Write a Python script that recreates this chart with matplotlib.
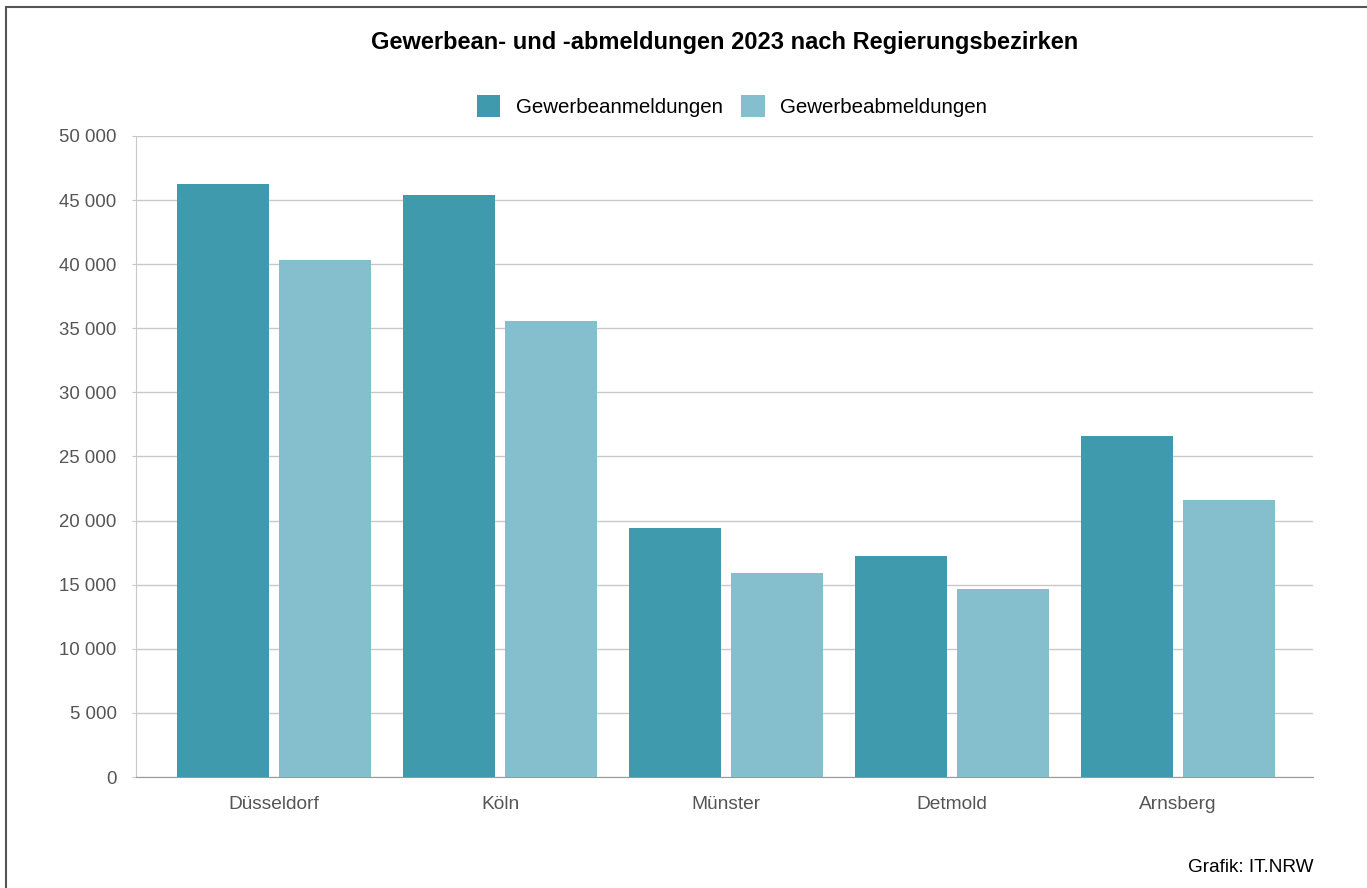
import matplotlib.pyplot as plt
import numpy as np
from matplotlib.patches import Rectangle

plt.rcParams['font.family'] = ['Liberation Sans', 'DejaVu Sans']

# Daten: Gewerbean- und -abmeldungen 2023
bezirke = ["Düsseldorf", "Köln", "Münster", "Detmold", "Arnsberg"]
anmeldungen = [46250, 45400, 19420, 17240, 26600]
abmeldungen = [40330, 35570, 15910, 14660, 21610]
yticks = [0, 5000, 10000, 15000, 20000, 25000, 30000, 35000, 40000, 45000, 50000]

farbe_an = "#3F9AAD"
farbe_ab = "#85BFCE"

W, H = 1367, 888
fig = plt.figure(figsize=(W / 100, H / 100), dpi=100)
ax = fig.add_axes([136 / W, (H - 777) / H, (1313 - 136) / W, (777 - 136) / H])

x = np.arange(len(bezirke))
breite = 0.407
versatz = 0.2257
ax.bar(x - versatz, anmeldungen, breite, color=farbe_an, label="Gewerbeanmeldungen", zorder=3)
ax.bar(x + versatz, abmeldungen, breite, color=farbe_ab, label="Gewerbeabmeldungen", zorder=3)

ax.set_xlim(-0.611, 4.597)
ax.set_ylim(0, 50000)
ax.set_yticks(yticks)
ax.set_yticklabels([f"{v:,}".replace(",", " ") for v in yticks])
ax.set_xticks(x)
ax.set_xticklabels(bezirke)

ax.grid(axis="y", color="#c8c8c8", linewidth=1, zorder=0)
for s in ["top", "right"]:
    ax.spines[s].set_visible(False)
ax.spines["left"].set_color("#c8c8c8")
ax.spines["bottom"].set_color("#999999")
ax.tick_params(axis="y", length=3, color="#c8c8c8", labelcolor="#555555", labelsize=13.4, pad=11)
ax.tick_params(axis="x", length=0, labelcolor="#555555", labelsize=13.8, pad=14)

fig.text(725 / W, 1 - 42 / H, "Gewerbean- und -abmeldungen 2023 nach Regierungsbezirken",
         ha="center", va="center", fontsize=17, fontweight="bold")
fig.legend(loc="center", bbox_to_anchor=(732 / W, 1 - 106 / H), ncol=2, frameon=False,
           fontsize=14.8, handlelength=1.15, handleheight=1.25, handletextpad=0.75, columnspacing=0.9)
fig.text(1313 / W, 1 - 867 / H, "Grafik: IT.NRW", ha="right", va="center", fontsize=13.7)

# Rahmen
fig.patches.append(Rectangle((6 / W, -0.1), 1.2, 1 - 7 / H + 0.1, transform=fig.transFigure,
                             fill=False, edgecolor="#555555", linewidth=1.5))

fig.savefig("out.png", dpi=100)
